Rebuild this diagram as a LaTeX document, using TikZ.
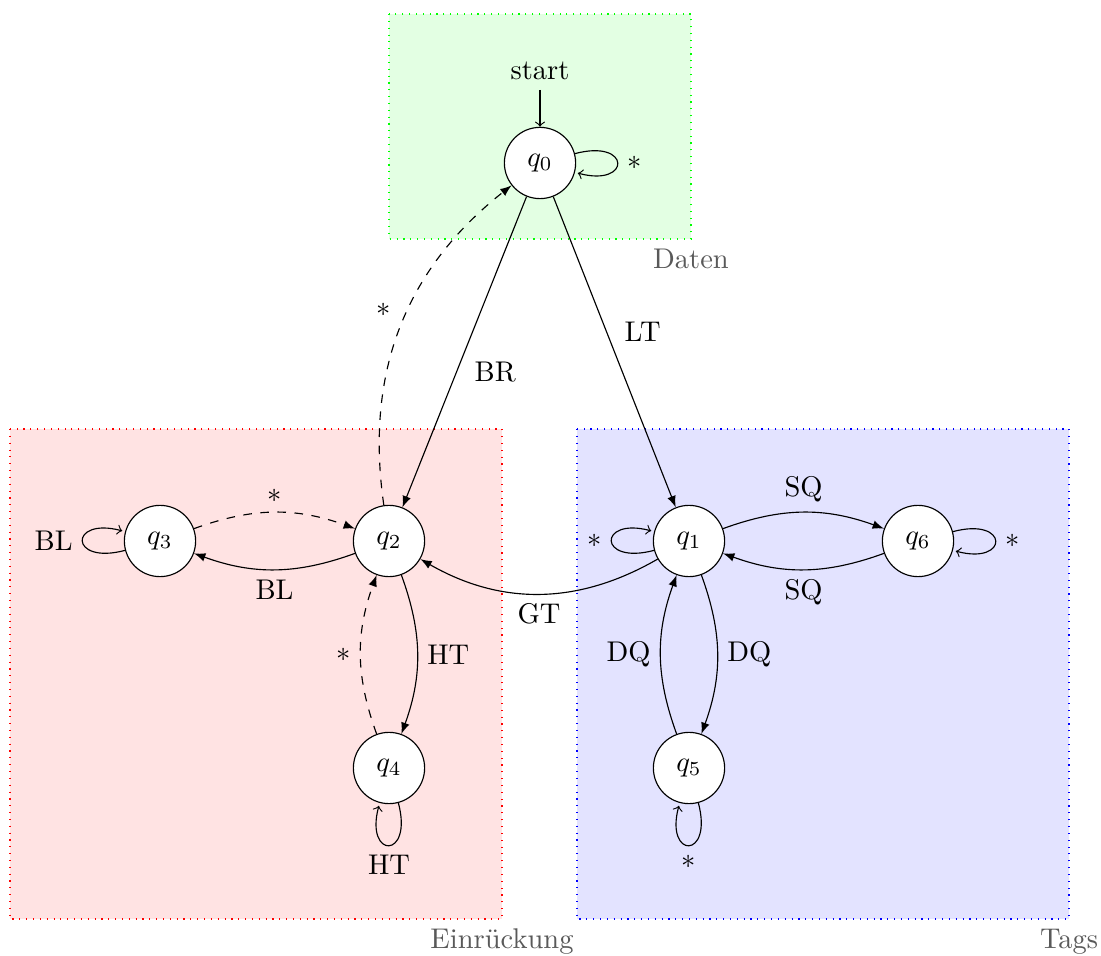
\documentclass[tikz,border=0pt]{standalone}
\usetikzlibrary{automata,arrows}
\begin{document}
\begin{tikzpicture}[x=0.35088pt,y=0.35088pt,
  every state/.style={draw,circle,minimum size=25pt,inner sep=0pt,fill=white},
  tr/.style={-latex,auto},
  lp/.style={->},
  regionbox/.style={dotted},
  regionlabel/.style={text=black!65,anchor=north}]
\useasboundingbox (0,0) rectangle (1101,-956);
% region boxes
\fill[green!11] (389,-14) rectangle (691,-239);
\draw[green,regionbox] (389,-14) rectangle (691,-239);
\fill[red!11] (10,-429) rectangle (502,-919);
\draw[red,regionbox] (10,-429) rectangle (502,-919);
\fill[blue!11] (577,-429) rectangle (1069,-919);
\draw[blue,regionbox] (577,-429) rectangle (1069,-919);
\node[regionlabel] (lDaten) at (691,-239) {Daten};
\node[regionlabel] (lEin) at (502,-919) {Einrückung};
\node[regionlabel] (lTags) at (1069,-919) {Tags};
% states
\node[state,initial above,initial text=start] (q0) at (540,-163) {$q_0$};
\node[state] (q2) at (389,-541) {$q_2$};
\node[state] (q3) at (160,-541) {$q_3$};
\node[state] (q4) at (389,-768) {$q_4$};
\node[state] (q1) at (689,-541) {$q_1$};
\node[state] (q6) at (918,-541) {$q_6$};
\node[state] (q5) at (689,-768) {$q_5$};
% transitions
\path[tr]
 (q0) edge node {BR} (q2)
 (q0) edge node {LT} (q1)
 (q2) edge[bend left,dashed] node {$*$} (q0)
 (q3) edge[bend left=20,dashed] node {$*$} (q2)
 (q2) edge[bend left=20] node {BL} (q3)
 (q2) edge[bend left=20] node {HT} (q4)
 (q4) edge[bend left=20,dashed] node {$*$} (q2)
 (q1) edge[bend left] node {GT} (q2)
 (q1) edge[bend left=20] node {SQ} (q6)
 (q6) edge[bend left=20] node {SQ} (q1)
 (q1) edge[bend left=20] node {DQ} (q5)
 (q5) edge[bend left=20] node {DQ} (q1);
% loops
\path[lp]
 (q0) edge[loop right] node[right] {$*$} ()
 (q3) edge[loop left] node[left] {BL} ()
 (q4) edge[loop below] node[below] {HT} ()
 (q1) edge[loop left] node[left] {$*$} ()
 (q6) edge[loop right] node[right] {$*$} ()
 (q5) edge[loop below] node[below] {$*$} ();
\end{tikzpicture}
\end{document}
